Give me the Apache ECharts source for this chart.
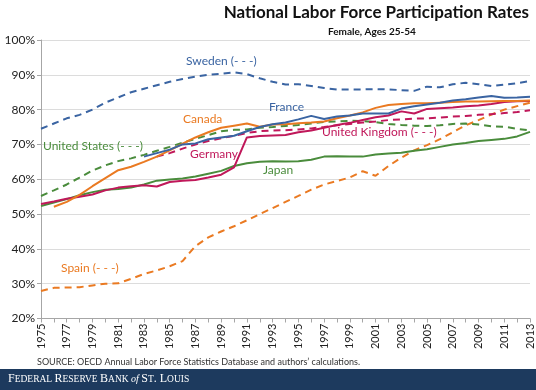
<!DOCTYPE html>
<html>
<head>
<meta charset="utf-8">
<script src="https://cdn.jsdelivr.net/npm/echarts@6/dist/echarts.min.js"></script>
<style>
html,body{margin:0;padding:0;background:#fff;}
#chart{width:536px;height:390px;}
</style>
</head>
<body>
<div id="chart"></div>
<script>
var years = [];
for (var y = 1975; y <= 2013; y++) years.push(String(y));

var sweden = [74.5,76,77.5,78.5,80,82,83.5,85,86,87,88,88.8,89.5,90,90.3,90.7,90.2,89,88,87.2,87.3,86.8,86.2,85.8,85.8,85.8,85.9,85.8,85.6,85.4,86.6,86.4,87.3,87.7,87.3,86.8,87.2,87.6,88.2];
var france = [null,null,null,null,null,null,null,null,66.5,67.5,68.5,70,70.3,71.5,72,72.5,73.8,75,75.8,76.3,77.2,78.2,77.3,78,78.3,78.9,78.9,78.9,80.3,81,81.5,82,82.6,83,83.5,83.9,83.4,83.5,83.7];
var canada = [null,52.1,53.5,55.5,58,60.3,62.6,63.6,65,66.5,68.3,70.2,72,73.5,74.8,75.4,76,75.1,75.7,75.8,76.1,76.3,76.6,77.5,78.3,79.2,80.5,81.3,81.6,81.8,81.8,82,82.2,82.3,82.3,82.4,82.5,82.5,82.6];
var unitedStates = [55.2,56.8,58.5,60.5,62.5,64,65.2,66,67,68.2,69.3,70.5,71.6,72.7,73.8,74.2,74.3,74.8,75,75.3,75.6,76,76.5,76.6,76.8,76.7,76.4,75.9,75.6,75.4,75.3,75.5,75.9,76,75.7,75.2,75.1,74.5,74];
var germany = [52.9,53.6,54.4,55,55.6,56.8,57.6,58,58.3,57.9,59.2,59.6,59.8,60.5,61.3,63.4,72,72.4,72.6,72.7,73.5,74,74.8,75.6,76.2,77,77.8,78.3,79.5,78.9,80.2,80.4,80.6,81,81.2,81.6,82.2,82.4,82.5];
var unitedKingdom = [null,null,null,null,null,null,null,null,null,66.5,67.5,68.8,70,71,71.8,72.5,73.3,73.8,74,74.1,74.3,74.6,75,75.5,75.9,76.3,76.6,77,77.2,77.4,77.5,77.7,78,78.2,78.5,78.7,79,79.3,79.8];
var japan = [52.3,53.3,54.3,55.4,56.3,57,57.2,57.6,58.5,59.6,59.9,60.2,60.8,61.6,62.4,63.8,64.6,65,65.2,65.1,65.2,65.6,66.5,66.6,66.5,66.5,67.1,67.4,67.6,68.2,68.6,69.3,70,70.4,71,71.3,71.6,72.3,73.6];
var spain = [27.9,28.8,28.9,29,29.5,30,30.1,31.4,32.8,33.8,35,36.5,40.8,43.3,45,46.5,48.2,50,51.7,53.5,55.2,57,58.5,59.5,60.5,62.3,61,63.8,66.2,68.3,69.8,71.5,73.5,75.5,77,78.6,80,81,82];

var yTicks = {min: 20, max: 100, interval: 10};

var BLUE = '#3a64a2', ORANGE = '#ea7a22', GREEN = '#4a8c3c', RED = '#c0185a';
var DASH = [7, 5];

function line(name, data, color, dashed) {
  return {
    name: name, type: 'line', data: data, symbol: 'none', smooth: false,
    lineStyle: {color: color, width: 2, type: dashed ? DASH : 'solid'},
    itemStyle: {color: color}, animation: false, connectNulls: false
  };
}

var FONT = 'Lato, "Open Sans", sans-serif';
function lbl(text, x, y, color) {
  return {type: 'text', left: x, top: y - 8, z: 100,
    style: {text: text, fill: color, font: '12px ' + FONT}};
}

var chart = echarts.init(document.getElementById('chart'), null, {renderer: 'canvas'});
chart.setOption({
  animation: false,
  backgroundColor: '#fff',
  grid: {left: 41, right: 6, top: 40, height: 278.5, containLabel: false},
  xAxis: {
    type: 'category', data: years, boundaryGap: false,
    axisLine: {lineStyle: {color: '#a6a6a6', width: 1}},
    axisTick: {show: true, interval: 0, length: 4, lineStyle: {color: '#a6a6a6'}},
    axisLabel: {interval: 1, rotate: 90, color: '#222', fontSize: 11, fontFamily: FONT, margin: 5},
    splitLine: {show: false}
  },
  yAxis: {
    type: 'value', min: yTicks.min, max: yTicks.max, interval: yTicks.interval,
    axisLine: {show: true, lineStyle: {color: '#a6a6a6'}},
    axisTick: {show: true, length: 4, lineStyle: {color: '#a6a6a6'}},
    axisLabel: {formatter: '{value}%', color: '#222', fontSize: 12, fontFamily: FONT, margin: 6},
    splitLine: {show: true, lineStyle: {color: '#dcdcdc', width: 1}}
  },
  series: [
    line('Spain', spain, ORANGE, true),
    line('Japan', japan, GREEN, false),
    line('United States', unitedStates, GREEN, true),
    line('United Kingdom', unitedKingdom, RED, true),
    line('Germany', germany, RED, false),
    line('Canada', canada, ORANGE, false),
    line('France', france, BLUE, false),
    line('Sweden', sweden, BLUE, true)
  ],
  graphic: [
    {type: 'text', right: 7, top: 4, style: {text: 'National Labor Force Participation Rates', fill: '#111', font: 'bold 17px ' + FONT}},
    {type: 'text', left: 328, top: 27, style: {text: 'Female, Ages 25-54', fill: '#111', font: 'bold 10px ' + FONT}},
    lbl('Sweden (- - -)', 186, 63, BLUE),
    lbl('France', 269, 109, BLUE),
    lbl('Canada', 183, 121, ORANGE),
    lbl('United States (- - -)', 43, 148, GREEN),
    lbl('Germany', 190, 156, RED),
    lbl('United Kingdom (- - -)', 322, 134, RED),
    lbl('Japan', 263, 172, GREEN),
    lbl('Spain (- - -)', 61, 270, ORANGE),
    {type: 'text', left: 37, top: 358, style: {text: 'SOURCE: OECD Annual Labor Force Statistics Database and authors\u2019 calculations.', fill: '#333', font: '9px ' + FONT}},
    {type: 'rect', left: 0, top: 369, shape: {width: 536, height: 21}, style: {fill: '#1d3a5e'}},
    {type: 'text', left: 8, top: 373, style: {
      text: '{a|F}{b|EDERAL }{a|R}{b|ESERVE }{a|B}{b|ANK }{c|of }{a|S}{b|T}{a|. L}{b|OUIS}',
      rich: {
        a: {fill: '#fff', font: '12px "Liberation Serif", "DejaVu Serif", serif'},
        b: {fill: '#fff', font: '9.5px "Liberation Serif", "DejaVu Serif", serif'},
        c: {fill: '#fff', font: 'italic 10px "Liberation Serif", "DejaVu Serif", serif'}
      }
    }}
  ]
});
</script>
</body>
</html>
